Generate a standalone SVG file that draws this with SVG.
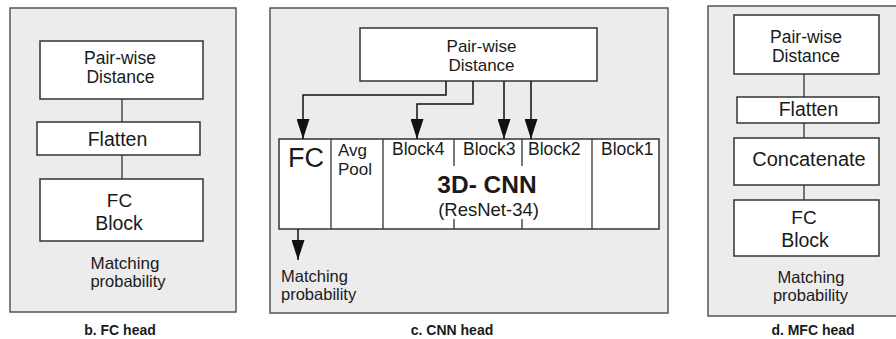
<svg xmlns="http://www.w3.org/2000/svg" width="896" height="339" viewBox="0 0 896 339">
  <style>
    .panel { fill: #ececec; stroke: #555; stroke-width: 1.5; }
    .box { fill: #ffffff; stroke: #333; stroke-width: 1.5; }
    .link { fill: none; stroke: #333; stroke-width: 1.3; }
    .arrow { fill: none; stroke: #111; stroke-width: 1.5; }
    text { font-family: "Liberation Sans", Arial, sans-serif; fill: #1a1a1a; }
    .c { text-anchor: middle; }
    .cap { font-size: 14px; font-weight: bold; text-anchor: middle; }
  </style>
  <defs>
    <marker id="head" markerUnits="userSpaceOnUse" markerWidth="20" markerHeight="13" refX="20" refY="6.5" orient="auto">
      <path d="M0,0 L20,6.5 L0,13 Z" fill="#111"/>
    </marker>
  </defs>

  <rect x="0" y="0" width="896" height="339" fill="#ffffff"/>

  <!-- b. FC head -->
  <g id="panel-b">
    <rect class="panel" x="10" y="8" width="226" height="304"/>
    <text class="cap" x="120" y="335">b. FC head</text>
  </g>
  <g id="b-distance">
    <rect class="box" x="40" y="41" width="163" height="58"/>
    <text class="c" x="120" y="64" font-size="17.5">Pair-wise</text>
    <text class="c" x="120.5" y="83" font-size="17.5">Distance</text>
  </g>
  <g id="b-flatten">
    <rect class="box" x="37" y="122" width="163" height="33"/>
    <text class="c" x="117.5" y="146" font-size="19.5">Flatten</text>
  </g>
  <g id="b-fc">
    <rect class="box" x="40" y="179" width="163" height="62"/>
    <text class="c" x="119.5" y="207" font-size="19">FC</text>
    <text class="c" x="119" y="230" font-size="19.5">Block</text>
  </g>
  <g id="b-output">
    <text class="c" x="125" y="269" font-size="17">Matching</text>
    <text class="c" x="128" y="287" font-size="16.5">probability</text>
  </g>

  <!-- c. CNN head -->
  <g id="panel-c">
    <rect class="panel" x="270" y="8" width="398" height="305"/>
    <text class="cap" x="452" y="335">c. CNN head</text>
  </g>
  <g id="c-distance">
    <rect class="box" x="360" y="28" width="237" height="53"/>
    <text class="c" x="481.5" y="52" font-size="17">Pair-wise</text>
    <text class="c" x="481.5" y="71" font-size="17">Distance</text>
  </g>
  <g id="c-resnet">
    <rect class="box" x="279" y="139" width="380" height="90"/>
    <line class="link" x1="331" y1="139" x2="331" y2="229"/>
    <line class="link" x1="383" y1="139" x2="383" y2="229"/>
    <line class="link" x1="454" y1="139" x2="454" y2="166"/>
    <line class="link" x1="454" y1="219" x2="454" y2="229"/>
    <line class="link" x1="522" y1="139" x2="522" y2="166"/>
    <line class="link" x1="522" y1="219" x2="522" y2="229"/>
    <line class="link" x1="592" y1="139" x2="592" y2="229"/>
    <text class="c" x="306" y="167" font-size="27">FC</text>
    <text x="338" y="156" font-size="17">Avg</text>
    <text x="338" y="175" font-size="17">Pool</text>
    <text x="392" y="155" font-size="17.5">Block4</text>
    <text x="463" y="155" font-size="17.5">Block3</text>
    <text x="528" y="155" font-size="17.5">Block2</text>
    <text x="601" y="155" font-size="17.5">Block1</text>
    <text class="c" x="487" y="193" font-size="24.5" font-weight="bold">3D- CNN</text>
    <text class="c" x="488.5" y="216" font-size="18.5">(ResNet-34)</text>
  </g>
  <g id="c-output">
    <text x="281" y="282" font-size="16.5">Matching</text>
    <text x="281" y="300" font-size="16.5">probability</text>
  </g>

  <!-- d. MFC head -->
  <g id="panel-d">
    <rect class="panel" x="708" y="6" width="200" height="310"/>
    <text class="cap" x="813" y="335">d. MFC head</text>
  </g>
  <g id="d-distance">
    <rect class="box" x="734" y="15" width="145" height="59"/>
    <text class="c" x="806" y="43" font-size="17.5">Pair-wise</text>
    <text class="c" x="806" y="62" font-size="17.5">Distance</text>
  </g>
  <g id="d-flatten">
    <rect class="box" x="737" y="97" width="142" height="26"/>
    <text class="c" x="808.5" y="116" font-size="19.5">Flatten</text>
  </g>
  <g id="d-concat">
    <rect class="box" x="734" y="138" width="145" height="47"/>
    <text class="c" x="809" y="166" font-size="20">Concatenate</text>
  </g>
  <g id="d-fc">
    <rect class="box" x="734" y="200" width="145" height="56"/>
    <text class="c" x="804" y="224" font-size="19">FC</text>
    <text class="c" x="805" y="247" font-size="19.5">Block</text>
  </g>
  <g id="d-output">
    <text class="c" x="811" y="283" font-size="16.5">Matching</text>
    <text class="c" x="810.5" y="301" font-size="16.5">probability</text>
  </g>

  <!-- connectors -->
  <g id="connectors">
    <line class="link" x1="122" y1="99" x2="122" y2="122"/>
    <line class="link" x1="122" y1="155" x2="122" y2="179"/>
    <line class="link" x1="804" y1="74" x2="804" y2="97"/>
    <line class="link" x1="804" y1="123" x2="804" y2="138"/>
    <line class="link" x1="804" y1="185" x2="804" y2="200"/>
    <polyline class="arrow" points="446,81 446,95 303,95 303,139" marker-end="url(#head)"/>
    <polyline class="arrow" points="473,81 473,104 417,104 417,139" marker-end="url(#head)"/>
    <line class="arrow" x1="504" y1="81" x2="504" y2="139" marker-end="url(#head)"/>
    <line class="arrow" x1="531" y1="81" x2="531" y2="139" marker-end="url(#head)"/>
    <line class="arrow" x1="298" y1="229" x2="298" y2="260" marker-end="url(#head)"/>
  </g>
</svg>
